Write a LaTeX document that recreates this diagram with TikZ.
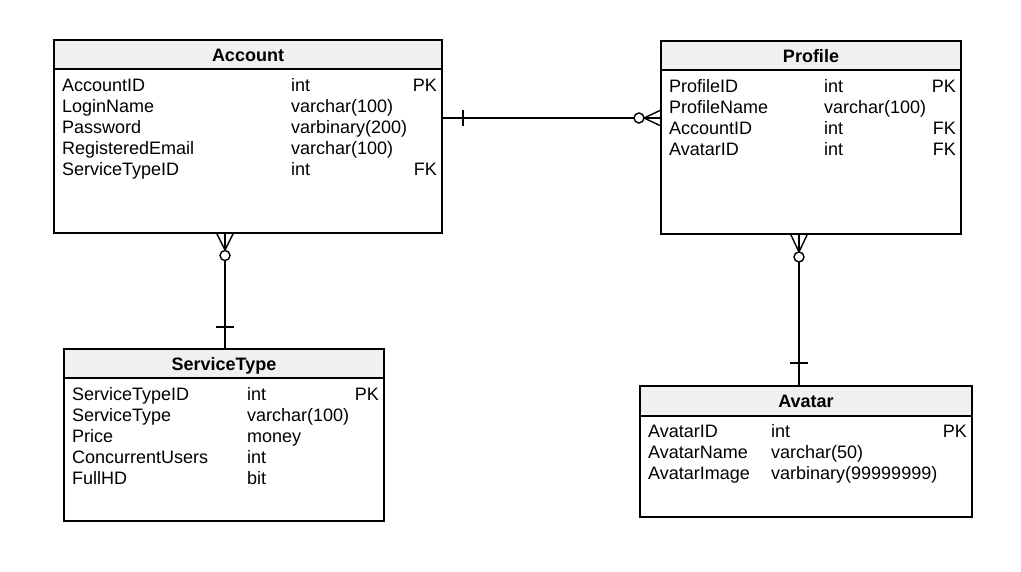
\documentclass[tikz,border=0pt]{standalone}
\usepackage{fontspec}
\setmainfont{Liberation Sans}
\begin{document}
\begin{tikzpicture}[x=1pt,y=-1pt,
  tbl/.style={rectangle,fill=white,inner sep=0pt,outer sep=0pt},
  bord/.style={line width=1.4pt,draw=black},
  hdr/.style={fill=hdrgray},
  ttl/.style={font=\fontsize{18}{21}\selectfont\bfseries,inner sep=0pt,text height=13pt,text depth=4pt,yshift=-1pt},
  fld/.style={font=\fontsize{18}{21}\selectfont,inner sep=0pt,anchor=west,text height=13pt,text depth=4pt,yshift=-1pt},
  key/.style={font=\fontsize{18}{21}\selectfont,inner sep=0pt,anchor=east,text height=13pt,text depth=4pt,yshift=-1pt},
  conn/.style={line width=1.4pt,draw=black},
  ring/.style={line width=1.4pt,draw=black,fill=white}]
\definecolor{hdrgray}{HTML}{F0F0F0}
\useasboundingbox[fill=white] (0,0) rectangle (1021,571);

% ---------- Account ----------
\node[tbl,minimum width=388pt,minimum height=193pt] (acc) at (248,136.5) {};
\fill[hdr] (acc.north west) rectangle ([yshift=-29pt]acc.north east);
\draw[bord] ([yshift=-29pt]acc.north west) -- ([yshift=-29pt]acc.north east);
\draw[bord] (acc.north west) rectangle (acc.south east);
\node[ttl] (accT) at (248,56) {Account};
\node[fld] (acc1) at (62,86) {AccountID};
\node[fld] (acc2) at (62,107) {LoginName};
\node[fld] (acc3) at (62,128) {Password};
\node[fld] (acc4) at (62,149) {RegisteredEmail};
\node[fld] (acc5) at (62,170) {ServiceTypeID};
\node[fld] (acc1t) at (291,86) {int};
\node[fld] (acc2t) at (291,107) {varchar(100)};
\node[fld] (acc3t) at (291,128) {varbinary(200)};
\node[fld] (acc4t) at (291,149) {varchar(100)};
\node[fld] (acc5t) at (291,170) {int};
\node[key] (acc1k) at (437,86) {PK};
\node[key] (acc5k) at (437,170) {FK};

% ---------- Profile ----------
\node[tbl,minimum width=300pt,minimum height=193pt] (prof) at (811,137.5) {};
\fill[hdr] (prof.north west) rectangle ([yshift=-29pt]prof.north east);
\draw[bord] ([yshift=-29pt]prof.north west) -- ([yshift=-29pt]prof.north east);
\draw[bord] (prof.north west) rectangle (prof.south east);
\node[ttl] (profT) at (811,57) {Profile};
\node[fld] (prof1) at (669,87) {ProfileID};
\node[fld] (prof2) at (669,108) {ProfileName};
\node[fld] (prof3) at (669,129) {AccountID};
\node[fld] (prof4) at (669,150) {AvatarID};
\node[fld] (prof1t) at (824,87) {int};
\node[fld] (prof2t) at (824,108) {varchar(100)};
\node[fld] (prof3t) at (824,129) {int};
\node[fld] (prof4t) at (824,150) {int};
\node[key] (prof1k) at (956,87) {PK};
\node[key] (prof3k) at (956,129) {FK};
\node[key] (prof4k) at (956,150) {FK};

% ---------- ServiceType ----------
\node[tbl,minimum width=320pt,minimum height=172pt] (st) at (224,435) {};
\fill[hdr] (st.north west) rectangle ([yshift=-29pt]st.north east);
\draw[bord] ([yshift=-29pt]st.north west) -- ([yshift=-29pt]st.north east);
\draw[bord] (st.north west) rectangle (st.south east);
\node[ttl] (stT) at (224,365) {ServiceType};
\node[fld] (st1) at (72,395) {ServiceTypeID};
\node[fld] (st2) at (72,416) {ServiceType};
\node[fld] (st3) at (72,437) {Price};
\node[fld] (st4) at (72,458) {ConcurrentUsers};
\node[fld] (st5) at (72,479) {FullHD};
\node[fld] (st1t) at (247,395) {int};
\node[fld] (st2t) at (247,416) {varchar(100)};
\node[fld] (st3t) at (247,437) {money};
\node[fld] (st4t) at (247,458) {int};
\node[fld] (st5t) at (247,479) {bit};
\node[key] (st1k) at (379,395) {PK};

% ---------- Avatar ----------
\node[tbl,minimum width=332pt,minimum height=131pt] (av) at (806,451.5) {};
\fill[hdr] (av.north west) rectangle ([yshift=-30pt]av.north east);
\draw[bord] ([yshift=-30pt]av.north west) -- ([yshift=-30pt]av.north east);
\draw[bord] (av.north west) rectangle (av.south east);
\node[ttl] (avT) at (806,402) {Avatar};
\node[fld] (av1) at (648,432) {AvatarID};
\node[fld] (av2) at (648,453) {AvatarName};
\node[fld] (av3) at (648,474) {AvatarImage};
\node[fld] (av1t) at (771,432) {int};
\node[fld] (av2t) at (771,453) {varchar(50)};
\node[fld] (av3t) at (771,474) {varbinary(99999999)};
\node[key] (av1k) at (967,432) {PK};

% ---------- Account -- Profile ----------
\coordinate (ap1) at ([yshift=18.5pt]acc.east);
\coordinate (ap2) at ([yshift=19.5pt]prof.west);
\draw[conn] (ap1) -- ([xshift=-22pt]ap2);
\draw[conn] ([xshift=21pt,yshift=8pt]ap1) -- ([xshift=21pt,yshift=-8pt]ap1);
\draw[conn] ([xshift=-17pt]ap2) -- ([yshift=8pt]ap2);
\draw[conn] ([xshift=-17pt]ap2) -- (ap2);
\draw[conn] ([xshift=-17pt]ap2) -- ([yshift=-8pt]ap2);
\draw[ring] ([xshift=-22pt]ap2) circle (5pt);

% ---------- Account -- ServiceType ----------
\coordinate (as1) at ([xshift=-23pt]acc.south);
\coordinate (as2) at ([xshift=1pt]st.north);
\draw[conn] ([yshift=-22.5pt]as1) -- (as2);
\draw[conn] ([yshift=-17pt]as1) -- ([xshift=-8.5pt]as1);
\draw[conn] ([yshift=-17pt]as1) -- (as1);
\draw[conn] ([yshift=-17pt]as1) -- ([xshift=8.5pt]as1);
\draw[ring] ([yshift=-22.5pt]as1) circle (5pt);
\draw[conn] ([xshift=-9pt,yshift=22pt]as2) -- ([xshift=9pt,yshift=22pt]as2);

% ---------- Profile -- Avatar ----------
\coordinate (pv1) at ([xshift=-12pt]prof.south);
\coordinate (pv2) at ([xshift=-7pt]av.north);
\draw[conn] ([yshift=-23pt]pv1) -- (pv2);
\draw[conn] ([yshift=-18pt]pv1) -- ([xshift=-8.5pt]pv1);
\draw[conn] ([yshift=-18pt]pv1) -- (pv1);
\draw[conn] ([yshift=-18pt]pv1) -- ([xshift=8.5pt]pv1);
\draw[ring] ([yshift=-23pt]pv1) circle (5pt);
\draw[conn] ([xshift=-9pt,yshift=23pt]pv2) -- ([xshift=9pt,yshift=23pt]pv2);
\end{tikzpicture}
\end{document}
